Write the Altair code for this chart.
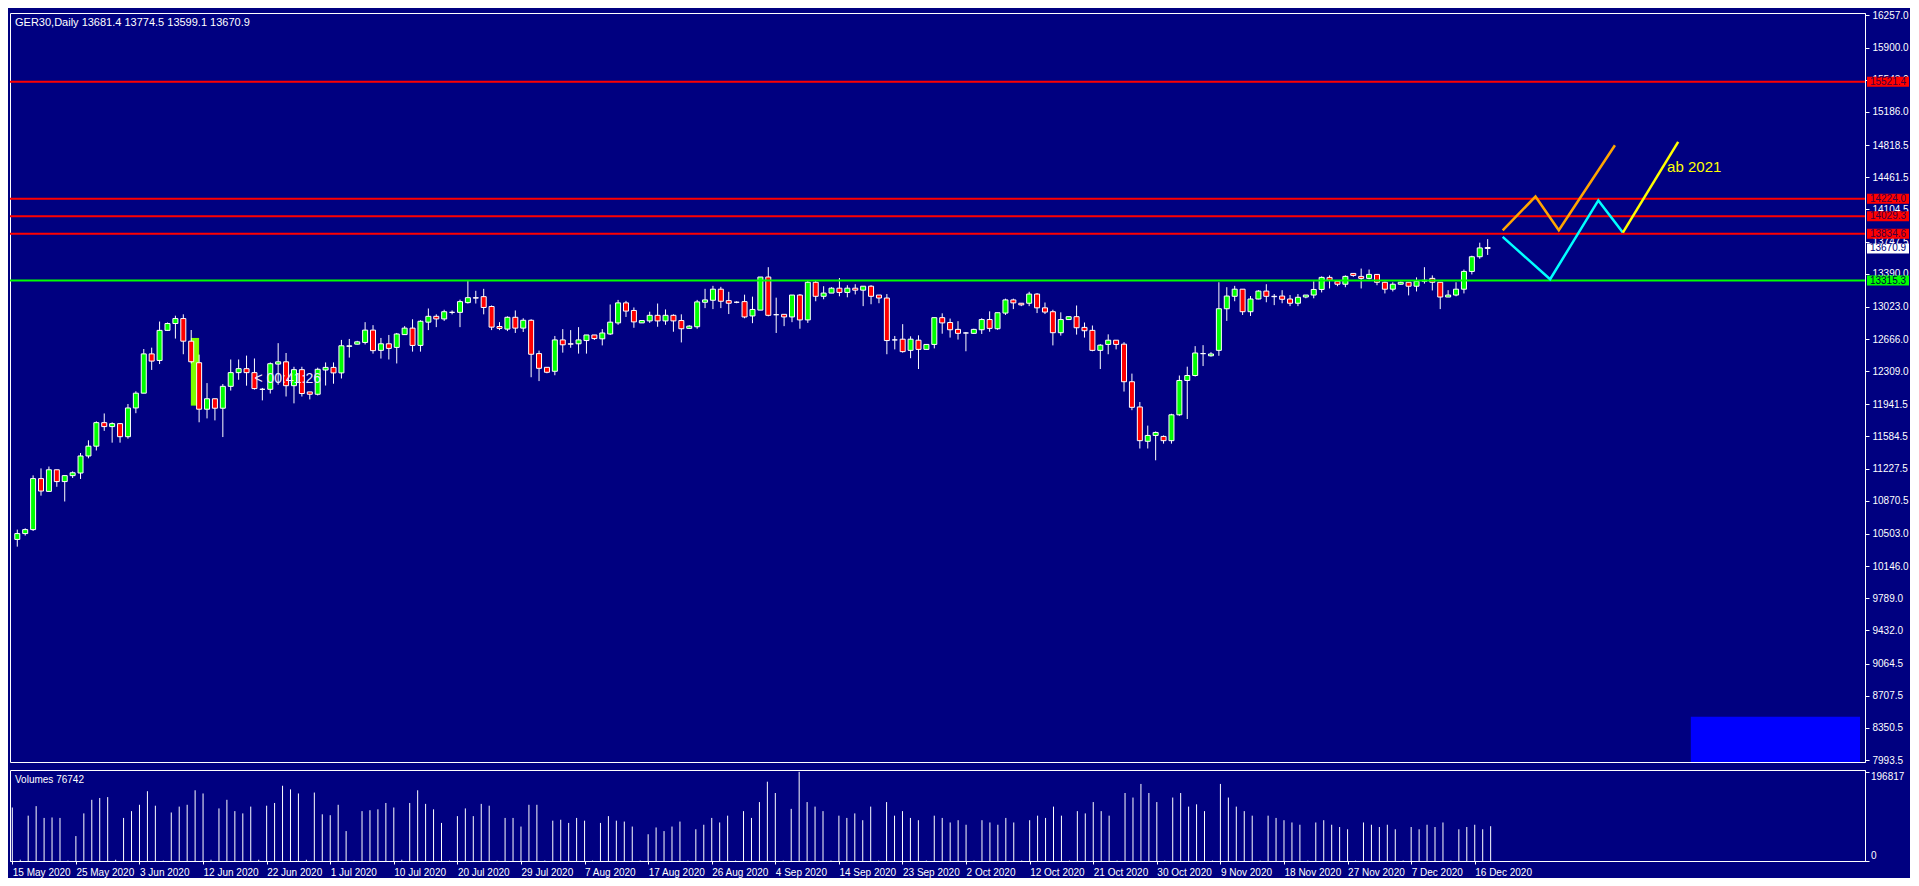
import altair as alt
import pandas as pd

# ---------------- data ----------------
opens = [10442, 10507, 10551, 11117, 10975, 11215, 11084, 11150, 11179, 11368, 11477, 11738, 11694, 11727,
         11582, 11901, 12065, 12501, 12428, 12762, 12838, 12893, 12642, 12403, 11887, 12003, 11898, 12141,
         12293, 12337, 12293, 12108, 12108, 12388, 12413, 12148, 12326, 12079, 12053, 12322, 12351, 12290,
         12585, 12609, 12628, 12765, 12540, 12613, 12573, 12715, 12787, 12595, 12853, 12918, 12889, 12962,
         12962, 13070, 13125, 13136, 13027, 12805, 12776, 12907, 12787, 12874, 12504, 12352, 12308, 12656,
         12613, 12613, 12649, 12711, 12668, 12722, 12845, 13067, 12983, 12845, 12867, 12929, 12867, 12929,
         12871, 12784, 12802, 13074, 13096, 13219, 13092, 13074, 13081, 12922, 12987, 13354, 12936, 12940,
         12911, 13154, 12878, 13296, 13140, 13176, 13230, 13183, 13230, 13208, 13252, 13154, 13121, 12656,
         12664, 12540, 12653, 12551, 12606, 12903, 12849, 12773, 12733, 12729, 12769, 12882, 12780, 12954,
         13100, 13063, 13063, 13165, 13012, 12969, 12736, 12882, 12914, 12795, 12762, 12540, 12606, 12653,
         12609, 12192, 11912, 11531, 11596, 11585, 11538, 11825, 12206, 12261, 12504, 12480, 12540, 13002,
         13140, 13219, 12969, 13110, 13198, 13140, 13143, 13110, 13063, 13132, 13154, 13216, 13350, 13307,
         13274, 13394, 13361, 13339, 13383, 13296, 13219, 13274, 13296, 13252, 13307, 13339, 13296, 13132,
         13154, 13219, 13416, 13579, 13681.4]
highs = [10551, 10565, 11153, 11230, 11251, 11215, 11150, 11197, 11401, 11542, 11752, 11840, 11741, 11727,
         11945, 12086, 12555, 12570, 12860, 12849, 12925, 12940, 12766, 12493, 12177, 12003, 12166, 12439,
         12439, 12482, 12450, 12123, 12406, 12620, 12511, 12358, 12358, 12079, 12348, 12406, 12406, 12656,
         12667, 12646, 12853, 12820, 12678, 12711, 12733, 12809, 12885, 12874, 13005, 12940, 12991, 12983,
         13103, 13310, 13201, 13223, 13038, 12853, 12918, 12983, 12896, 12885, 12537, 12352, 12700, 12776,
         12765, 12798, 12711, 12711, 12776, 13049, 13100, 13089, 13016, 12871, 12969, 13060, 12994, 12940,
         12940, 12820, 13100, 13223, 13256, 13245, 13190, 13085, 13158, 13136, 13354, 13463, 13125, 12940,
         13154, 13165, 13310, 13310, 13252, 13241, 13343, 13263, 13274, 13252, 13263, 13154, 13165, 12700,
         12831, 12696, 12707, 12606, 12903, 12951, 12893, 12864, 12744, 12780, 12896, 12973, 12958, 13114,
         13114, 13063, 13190, 13176, 13071, 12991, 12962, 12914, 13038, 12849, 12816, 12609, 12718, 12653,
         12631, 12282, 11967, 11705, 11640, 11596, 11836, 12261, 12359, 12587, 12598, 12520, 13296, 13241,
         13256, 13219, 13143, 13208, 13274, 13165, 13208, 13154, 13165, 13154, 13307, 13361, 13372, 13307,
         13372, 13394, 13448, 13437, 13383, 13303, 13296, 13303, 13296, 13350, 13463, 13372, 13296, 13208,
         13296, 13437, 13590, 13735, 13774.5]
lows = [10362, 10485, 10536, 10928, 10972, 11026, 10863, 11124, 11113, 11342, 11429, 11647, 11516, 11516,
        11560, 11843, 12065, 12323, 12388, 12758, 12671, 12497, 12395, 11742, 11785, 11763, 11578, 12094,
        12214, 12148, 12105, 11985, 12061, 12159, 12028, 11952, 12028, 11996, 12040, 12150, 12170, 12228,
        12460, 12605, 12606, 12504, 12449, 12439, 12395, 12715, 12526, 12526, 12765, 12798, 12867, 12940,
        12798, 13060, 13060, 12940, 12765, 12765, 12754, 12733, 12744, 12242, 12199, 12286, 12264, 12515,
        12569, 12504, 12504, 12656, 12595, 12711, 12824, 12911, 12791, 12845, 12845, 12802, 12824, 12747,
        12628, 12780, 12780, 13009, 12998, 13009, 12943, 13063, 12896, 12842, 12987, 12918, 12733, 12809,
        12853, 12780, 12845, 13085, 13107, 13176, 13140, 13129, 13161, 13031, 13052, 13063, 12497, 12551,
        12515, 12453, 12333, 12551, 12562, 12725, 12682, 12660, 12530, 12722, 12722, 12747, 12769, 12933,
        12998, 13031, 13031, 12954, 12943, 12595, 12704, 12882, 12715, 12682, 12530, 12333, 12497, 12551,
        12083, 11876, 11451, 11451, 11320, 11505, 11505, 11814, 11778, 12250, 12366, 12470, 12480, 12867,
        13085, 12933, 12922, 13107, 13074, 13042, 13063, 13031, 13031, 13118, 13118, 13183, 13227, 13252,
        13241, 13357, 13227, 13328, 13263, 13172, 13194, 13270, 13150, 13194, 13281, 13205, 12998, 13132,
        13140, 13172, 13383, 13557, 13599.1]
closes = [10507, 10551, 11117, 10979, 11215, 11084, 11150, 11182, 11368, 11477, 11738, 11694, 11727, 11582,
          11901, 12065, 12501, 12421, 12762, 12838, 12893, 12642, 12414, 11887, 12003, 11898, 12141, 12293,
          12337, 12293, 12116, 12108, 12392, 12413, 12148, 12326, 12061, 12053, 12330, 12351, 12290, 12591,
          12590, 12635, 12765, 12537, 12613, 12562, 12722, 12787, 12595, 12863, 12918, 12889, 12969, 12962,
          13081, 13125, 13120, 13016, 12798, 12784, 12907, 12787, 12874, 12497, 12341, 12297, 12656, 12602,
          12609, 12656, 12711, 12671, 12733, 12853, 13067, 12976, 12856, 12871, 12929, 12867, 12929, 12867,
          12780, 12809, 13078, 13100, 13219, 13085, 13063, 13074, 12911, 12994, 13354, 12929, 12936, 12911,
          13154, 12878, 13296, 13140, 13176, 13230, 13183, 13230, 13208, 13252, 13140, 13121, 12649, 12656,
          12526, 12664, 12551, 12606, 12903, 12845, 12769, 12729, 12733, 12773, 12882, 12784, 12958, 13100,
          13067, 13045, 13165, 13012, 12965, 12736, 12882, 12914, 12791, 12758, 12540, 12598, 12653, 12606,
          12192, 11908, 11538, 11596, 11629, 11538, 11825, 12206, 12261, 12511, 12504, 12500, 13002, 13143,
          13219, 12969, 13110, 13198, 13140, 13136, 13107, 13063, 13129, 13154, 13216, 13350, 13318, 13274,
          13361, 13372, 13339, 13383, 13296, 13219, 13274, 13296, 13252, 13307, 13318, 13296, 13132, 13154,
          13219, 13416, 13579, 13677, 13670.9]
volumes = [118000, 2800, 100000, 121000, 95000, 96000, 95000,
           1000, 55000, 105000, 135000, 139000, 141000,
           2800, 95000, 110000, 124000, 154000, 122000,
           1000, 107000, 120000, 124000, 156000, 149000,
           2800, 116000, 135000, 110000, 105000, 120000,
           2800, 122000, 128000, 166000, 158000, 149000,
           2800, 151000, 103000, 101000, 124000, 66000,
           1000, 110000, 112000, 114000, 128000, 118000,
           2800, 128000, 156000, 126000, 114000, 84000,
           1000, 99000, 116000, 99000, 126000, 122000,
           1000, 95000, 95000, 76000, 124000, 124000,
           1000, 89000, 91000, 84000, 95000, 89000,
           1000, 84000, 99000, 89000, 87000, 76000,
           1000, 59000, 74000, 66000, 76000, 87000,
           1000, 70000, 80000, 95000, 85000, 100000,
           1000, 110000, 95000, 130000, 175000, 150000,
           1000, 115000, 196817, 130000, 120000, 110000,
           1000, 100000, 95000, 105000, 90000, 120000,
           1000, 130000, 100000, 110000, 95000, 90000,
           1000, 100000, 95000, 85000, 90000, 80000,
           1000, 90000, 85000, 80000, 95000, 85000,
           1000, 90000, 100000, 95000, 120000, 100000,
           1000, 110000, 105000, 130000, 110000, 100000,
           1000, 150000, 140000, 170000, 150000, 130000,
           1000, 140000, 150000, 120000, 125000, 110000,
           1000, 170000, 140000, 120000, 110000, 100000,
           1000, 100000, 95000, 90000, 85000, 80000,
           1000, 85000, 90000, 80000, 75000, 70000,
           1000, 85000, 80000, 75000, 80000, 70000,
           1000, 75000, 70000, 80000, 75000, 85000,
           1000, 70000, 75000, 80000, 70000, 76742]

date_labels = ["15 May 2020", "25 May 2020", "3 Jun 2020", "12 Jun 2020", "22 Jun 2020", "1 Jul 2020",
               "10 Jul 2020", "20 Jul 2020", "29 Jul 2020", "7 Aug 2020", "17 Aug 2020", "26 Aug 2020",
               "4 Sep 2020", "14 Sep 2020", "23 Sep 2020", "2 Oct 2020", "12 Oct 2020", "21 Oct 2020",
               "30 Oct 2020", "9 Nov 2020", "18 Nov 2020", "27 Nov 2020", "7 Dec 2020", "16 Dec 2020"]
label_step = 8

price_ticks = [16257.0, 15900.0, 15543.0, 15186.0, 14818.5, 14461.5, 14104.5, 13747.5, 13390.0, 13023.0,
               12666.0, 12309.0, 11941.5, 11584.5, 11227.5, 10870.5, 10503.0, 10146.0, 9789.0, 9432.0,
               9064.5, 8707.5, 8350.5, 7993.5]

red_levels = [15521.4, 14224.0, 14029.3, 13834.6]
green_level = 13315.3
last_price = 13670.9
volume_max = 196817
last_volume = 76742

orange_x = [187.9, 192.05, 195.0, 202.1]
orange_y = [13873, 14247, 13873, 14817]
cyan_x = [187.9, 193.9, 200.0, 203.1]
cyan_y = [13800, 13329, 14204, 13847]
yellow_x = [203.1, 210.1]
yellow_y = [13847, 14854]
note_text = "ab 2021"
note_x = 208.7
note_y = 14574

timer_text = "< 00:41:26"
timer_x = 30.0
timer_y = 12221

lime_box = {"x1": 21.96, "x2": 23.0, "y1": 11927, "y2": 12678}
blue_box = {"x1": 211.7, "x2": 233.1, "y1": 7972, "y2": 8473}

title_text = "GER30,Daily  13681.4 13774.5 13599.1 13670.9"

# ---------------- layout ----------------
W = 1855
HM = 749
HV = 91
NAVY = "#000080"
FONT = "Liberation Sans"

xscale = alt.Scale(domain=[-0.29, 233.1], nice=False, zero=False)
yscale = alt.Scale(domain=[7972, 16284], nice=False, zero=False)
vscale = alt.Scale(domain=[0, volume_max * 1.02], nice=False, zero=True)

n = len(closes)
df = pd.DataFrame({"i": list(range(n)), "open": opens[:n], "high": highs[:n], "low": lows[:n],
                   "close": closes, "volume": volumes[:n]})
df["dir"] = ["up" if c >= o else "down" for o, c in zip(df["open"], df["close"])]

X = alt.X("i:Q", scale=xscale, axis=None)

price_axis = alt.Axis(orient="right", values=price_ticks, format=".1f", grid=False, title=None,
                      labelColor="white", tickColor="white", domainColor="white", tickSize=4,
                      labelFont=FONT, labelFontSize=10, labelPadding=3, labelOverlap=False)

def Y(field):
    return alt.Y(field, scale=yscale, axis=price_axis)

base = alt.Chart(df)

blue = alt.Chart(pd.DataFrame([blue_box])).mark_rect(color="#0000FF").encode(
    x=alt.X("x1:Q", scale=xscale, axis=None), x2="x2:Q", y=Y("y1:Q"), y2="y2:Q")
lime = alt.Chart(pd.DataFrame([lime_box])).mark_rect(color="#7FFF00").encode(
    x=alt.X("x1:Q", scale=xscale, axis=None), x2="x2:Q", y=Y("y1:Q"), y2="y2:Q")
timer = alt.Chart(pd.DataFrame({"tx": [timer_x], "ty": [timer_y], "tt": [timer_text]})).mark_text(
    align="left", baseline="middle", color="#E8E8FF", font=FONT, fontSize=14).encode(
    x=alt.X("tx:Q", scale=xscale, axis=None), y=Y("ty:Q"), text="tt:N")

wicks = base.mark_rule(color="white", strokeWidth=1).encode(x=X, y=Y("low:Q"), y2="high:Q")
up_bodies = base.transform_filter("datum.dir == 'up'").mark_bar(
    size=5, stroke="white", strokeWidth=1, fill="#00FF00").encode(x=X, y=Y("open:Q"), y2="close:Q")
down_bodies = base.transform_filter("datum.dir == 'down'").mark_bar(
    size=5, stroke="white", strokeWidth=1, fill="#FF0000").encode(x=X, y=Y("open:Q"), y2="close:Q")

reds = alt.Chart(pd.DataFrame({"p": red_levels})).mark_rule(color="#FF0000", strokeWidth=2).encode(y=Y("p:Q"))
green = alt.Chart(pd.DataFrame({"p": [green_level]})).mark_rule(color="#00FF00", strokeWidth=2).encode(y=Y("p:Q"))

def zig(xs, ys, colour):
    d = pd.DataFrame({"x": xs, "y": ys, "k": list(range(len(xs)))})
    return alt.Chart(d).mark_line(strokeWidth=2.5, color=colour).encode(
        x=alt.X("x:Q", scale=xscale, axis=None), y=Y("y:Q"), order="k:Q")

zig_orange = zig(orange_x, orange_y, "#FFA500")
zig_cyan = zig(cyan_x, cyan_y, "#00FFFF")
zig_yellow = zig(yellow_x, yellow_y, "#FFFF00")

note = alt.Chart(pd.DataFrame({"x": [note_x], "y": [note_y], "t": [note_text]})).mark_text(
    align="left", baseline="middle", color="#FFFF00", font=FONT, fontSize=15).encode(
    x=alt.X("x:Q", scale=xscale, axis=None), y=Y("y:Q"), text="t:N")

def price_box(values, fill, text_color):
    d = pd.DataFrame({"p": values, "t": [f"{v:.1f}" for v in values]})
    box = alt.Chart(d).mark_rect(fill=fill, yOffset=-5, y2Offset=5).encode(
        x=alt.value(W + 2), x2=alt.value(W + 44), y=Y("p:Q"), y2="p:Q")
    txt = alt.Chart(d).mark_text(align="center", baseline="middle", color=text_color,
                                 font=FONT, fontSize=10).encode(
        x=alt.value(W + 23), y=Y("p:Q"), text="t:N")
    return [box, txt]

boxes = (price_box(red_levels, "#FF0000", "#400040") + price_box([green_level], "#00FF00", "#000040")
         + price_box([last_price], "#FFFFFF", NAVY))

title = alt.Chart(pd.DataFrame({"t": [title_text]})).mark_text(
    align="left", baseline="top", color="white", font=FONT, fontSize=11).encode(
    x=alt.value(5), y=alt.value(4), text="t:N")

main = alt.layer(blue, lime, wicks, up_bodies, down_bodies, reds, green,
                 zig_orange, zig_cyan, zig_yellow, note, *boxes, title, timer).properties(width=W, height=HM)

# ---------------- volume panel ----------------
label_expr = "[" + ",".join(f"'{s}'" for s in date_labels) + f"][round(datum.value/{label_step})]"
x_axis = alt.Axis(orient="bottom", values=[k * label_step for k in range(len(date_labels))],
                  labelExpr=label_expr, labelAlign="left", labelPadding=3, labelOverlap=False,
                  labelBound=False, labelFlush=False, tickSize=3, grid=False, title=None,
                  labelColor="white", tickColor="white", domainColor="white",
                  labelFont=FONT, labelFontSize=10)
vol_axis = alt.Axis(orient="right", values=[0, volume_max], labels=False, grid=False, title=None,
                    tickColor="white", domainColor="white", tickSize=4)

vbars = base.mark_rule(color="white", strokeWidth=1).encode(
    x=alt.X("i:Q", scale=xscale, axis=x_axis),
    y=alt.Y("volume:Q", scale=vscale, axis=vol_axis))
vtop = alt.Chart(pd.DataFrame({"v": [volume_max], "t": [str(volume_max)]})).mark_text(
    align="left", baseline="top", color="white", font=FONT, fontSize=10).encode(
    x=alt.value(W + 6), y=alt.Y("v:Q", scale=vscale, axis=vol_axis), text="t:N")
vzero = alt.Chart(pd.DataFrame({"v": [0], "t": ["0"]})).mark_text(
    align="left", baseline="bottom", color="white", font=FONT, fontSize=10).encode(
    x=alt.value(W + 6), y=alt.Y("v:Q", scale=vscale, axis=vol_axis), text="t:N")
vtitle = alt.Chart(pd.DataFrame({"t": [f"Volumes {last_volume}"]})).mark_text(
    align="left", baseline="top", color="white", font=FONT, fontSize=10).encode(
    x=alt.value(5), y=alt.value(5), text="t:N")

vol = alt.layer(vbars, vtop, vzero, vtitle).properties(width=W, height=HV)

chart = alt.vconcat(main, vol, spacing=3).properties(
    padding={"left": 0, "top": 1, "right": 0, "bottom": 0}
).configure(background=NAVY).configure_view(stroke="white", strokeWidth=1, fill=NAVY)

chart.save("out.html", embed_options={"renderer": "svg", "actions": False})
